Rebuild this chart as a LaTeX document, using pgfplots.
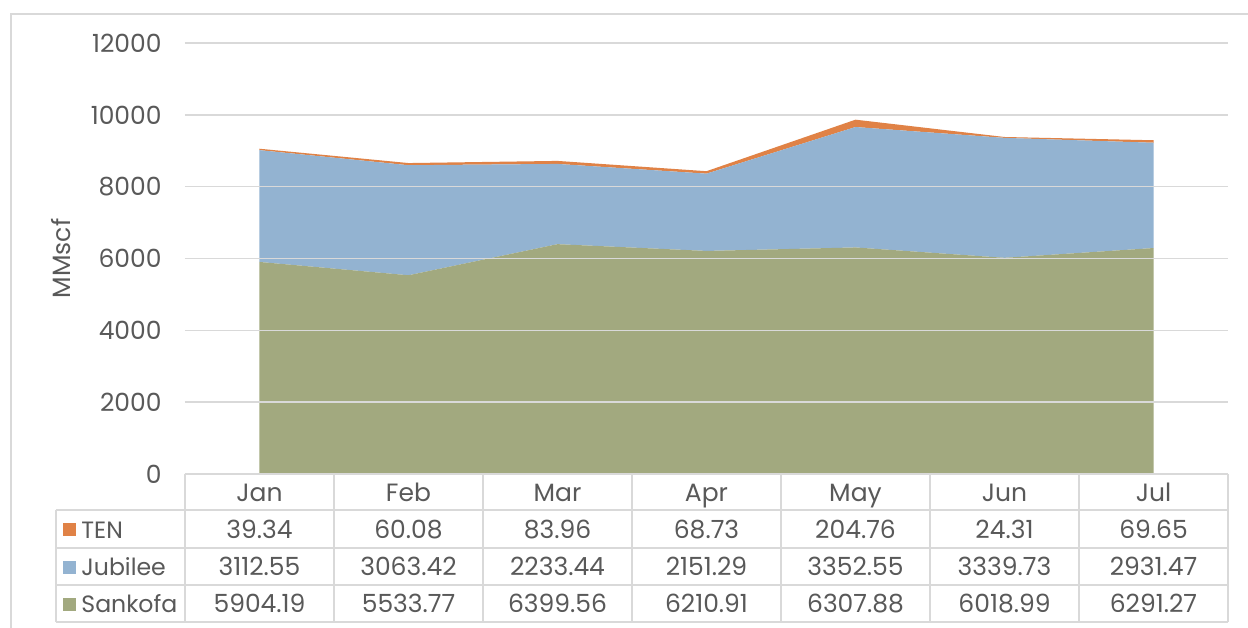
\documentclass[border=0pt]{standalone}
\usepackage{pgfplots}
\pgfplotsset{compat=1.18}
\usepackage{pgfplotstable}
\usepackage{fontspec}
\setmainfont{Poppins}
\definecolor{sank}{RGB}{162,169,127}
\definecolor{jub}{RGB}{147,179,209}
\definecolor{ten}{RGB}{224,130,70}
\definecolor{gridc}{RGB}{217,217,217}
\definecolor{txt}{RGB}{89,89,89}

\pgfplotstableread{
x month Sankofa Jubilee TEN
0 Jan 5904.19 3112.55 39.34
1 Feb 5533.77 3063.42 60.08
2 Mar 6399.56 2233.44 83.96
3 Apr 6210.91 2151.29 68.73
4 May 6307.88 3352.55 204.76
5 Jun 6018.99 3339.73 24.31
6 Jul 6291.27 2931.47 69.65
}\data

\begin{document}
\begin{tikzpicture}[font=\fontsize{12.5}{14}\selectfont]
\clip (-92.5pt,-76.5pt) rectangle (531.5pt,237pt);
\fill[white] (-92.5pt,-76.5pt) rectangle (531.5pt,237pt);
\draw[gridc, line width=0.7pt] (-87pt,-100pt) -- (-87pt,230pt) -- (560pt,230pt);
\begin{axis}[
  at={(0pt,0pt)}, anchor=south west,
  scale only axis, width=521.5pt, height=215.5pt,
  xmin=-0.5, xmax=6.5, ymin=0, ymax=12000,
  ytick={0,2000,...,12000},
  scaled y ticks=false,
  xtick={0,...,6},
  xticklabels from table={\data}{month},
  xticklabel style={anchor=base, inner sep=0pt, yshift=-13.5pt, text=txt},
  yticklabel style={anchor=east, inner sep=0pt, xshift=-11.5pt, text=txt},
  /pgf/number format/1000 sep={},
  /pgf/number format/assume math mode=true,
  axis line style={draw=none},
  major tick length=0pt,
  ymajorgrids,
  grid style={gridc, line width=0.75pt},
  ylabel={MMscf},
  every axis y label/.style={at={(axis description cs:0,0.5)}, xshift=-62pt, rotate=90, anchor=center, text=txt},
  stack plots=y,
  area style,
]
\addplot[fill=sank, draw=none] table[x=x, y=Sankofa]{\data} \closedcycle;
\addplot[fill=jub, draw=none] table[x=x, y=Jubilee]{\data} \closedcycle;
\addplot[fill=ten, draw=none] table[x=x, y=TEN]{\data} \closedcycle;
\end{axis}
% data table grid
\begin{scope}[gridc, line width=0.7pt]
\draw (0pt,0pt) -- (521.5pt,0pt);
\foreach \y in {-18,-37,-55.5,-74} \draw (-64.5pt,\y pt) -- (521.5pt,\y pt);
\draw (-64.5pt,-18pt) -- (-64.5pt,-74pt);
\foreach \k in {0,...,7} \draw ({\k*74.5pt},0pt) -- ({\k*74.5pt},-74pt);
\end{scope}
% legend keys
\fill[ten] (-61pt,-31pt) rectangle +(6.5pt,6.5pt);
\fill[jub] (-61pt,-49.75pt) rectangle +(6.5pt,6.5pt);
\fill[sank] (-61pt,-68.25pt) rectangle +(6.5pt,6.5pt);
\begin{scope}[every node/.style={anchor=base west, inner sep=0pt, text=txt, font=\fontsize{11.8}{14}\selectfont}]
\node at (-52pt,-32pt) {TEN};
\node at (-52pt,-50.75pt) {Jubilee};
\node at (-52pt,-69.25pt) {Sankofa};
\end{scope}
% values
\foreach \i in {0,...,6} {
  \pgfplotstablegetelem{\i}{TEN}\of\data \let\vten\pgfplotsretval
  \pgfplotstablegetelem{\i}{Jubilee}\of\data \let\vjub\pgfplotsretval
  \pgfplotstablegetelem{\i}{Sankofa}\of\data \let\vsan\pgfplotsretval
  \node[anchor=base, inner sep=0pt, text=txt] at ({(\i+0.5)*74.5pt},-32pt) {\vten};
  \node[anchor=base, inner sep=0pt, text=txt] at ({(\i+0.5)*74.5pt},-50.75pt) {\vjub};
  \node[anchor=base, inner sep=0pt, text=txt] at ({(\i+0.5)*74.5pt},-69.25pt) {\vsan};
}
\end{tikzpicture}
\end{document}
